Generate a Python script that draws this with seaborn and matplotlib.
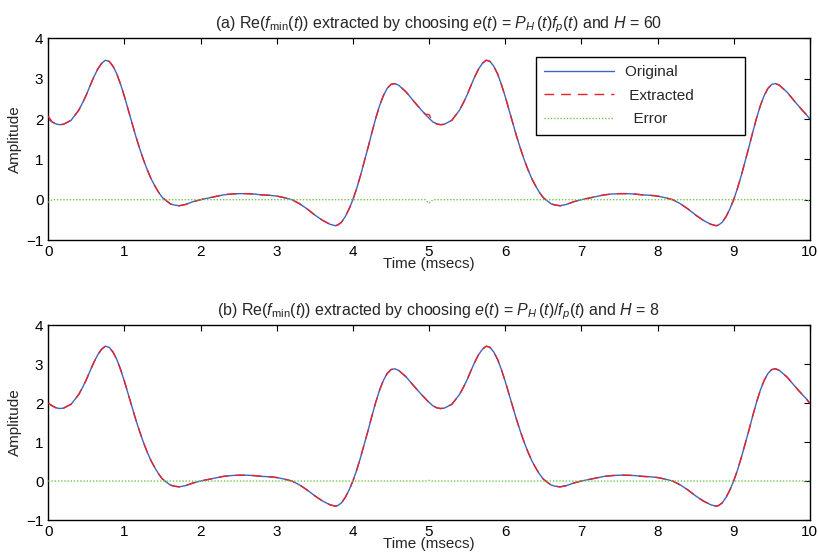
import matplotlib
matplotlib.use("Agg")
import matplotlib.pyplot as plt
from matplotlib.lines import Line2D
import seaborn as sns
import pandas as pd

# ---------------- data ----------------
time_ms = [0.0, 0.05, 0.1, 0.15, 0.2, 0.3, 0.4, 0.45, 0.5, 0.55, 0.6, 0.65, 0.7, 0.75, 0.8, 0.85,
           0.9, 0.95, 1.0, 1.05, 1.1, 1.15, 1.2, 1.25, 1.3, 1.35, 1.4, 1.45, 1.5, 1.6, 1.65, 1.72,
           1.8, 1.9, 2.0, 2.1, 2.2, 2.3, 2.4, 2.5, 2.6, 2.7, 2.8, 2.9, 3.0, 3.1, 3.2, 3.3, 3.4,
           3.5, 3.6, 3.7, 3.77, 3.8, 3.85, 3.9, 3.95, 4.0, 4.05, 4.1, 4.15, 4.2, 4.25, 4.3, 4.35,
           4.4, 4.45, 4.5, 4.55, 4.6, 4.7, 4.8, 4.9, 4.95,
           5.0, 5.05, 5.1, 5.15, 5.2, 5.3, 5.4, 5.45, 5.5, 5.55, 5.6, 5.65, 5.7, 5.75, 5.8, 5.85,
           5.9, 5.95, 6.0, 6.05, 6.1, 6.15, 6.2, 6.25, 6.3, 6.35, 6.4, 6.45, 6.5, 6.6, 6.65, 6.72,
           6.8, 6.9, 7.0, 7.1, 7.2, 7.3, 7.4, 7.5, 7.6, 7.7, 7.8, 7.9, 8.0, 8.1, 8.2, 8.3, 8.4,
           8.5, 8.6, 8.7, 8.77, 8.8, 8.85, 8.9, 8.95, 9.0, 9.05, 9.1, 9.15, 9.2, 9.25, 9.3, 9.35,
           9.4, 9.45, 9.5, 9.55, 9.6, 9.7, 9.8, 9.9, 9.95, 10.0]

original = [2.00, 1.93, 1.88, 1.86, 1.87, 1.97, 2.22, 2.40, 2.60, 2.83, 3.05, 3.24, 3.38, 3.46, 3.43, 3.31,
            3.12, 2.86, 2.56, 2.23, 1.90, 1.57, 1.27, 0.99, 0.74, 0.52, 0.34, 0.18, 0.05, -0.10, -0.13, -0.15,
            -0.12, -0.05, 0.00, 0.04, 0.08, 0.12, 0.14, 0.15, 0.15, 0.14, 0.12, 0.11, 0.09, 0.05, 0.00, -0.10, -0.23,
            -0.38, -0.51, -0.61, -0.645, -0.63, -0.56, -0.42, -0.23, 0.00, 0.28, 0.60, 0.95, 1.30, 1.67, 2.02, 2.33,
            2.58, 2.76, 2.86, 2.88, 2.84, 2.67, 2.44, 2.22, 2.12,
            2.02, 1.93, 1.88, 1.86, 1.87, 1.97, 2.22, 2.40, 2.60, 2.83, 3.05, 3.24, 3.38, 3.46, 3.43, 3.31,
            3.12, 2.86, 2.56, 2.23, 1.90, 1.57, 1.27, 0.99, 0.74, 0.52, 0.34, 0.18, 0.05, -0.10, -0.13, -0.15,
            -0.12, -0.05, 0.00, 0.04, 0.08, 0.12, 0.14, 0.15, 0.15, 0.14, 0.12, 0.11, 0.09, 0.05, 0.00, -0.10, -0.23,
            -0.38, -0.51, -0.61, -0.645, -0.63, -0.56, -0.42, -0.23, 0.00, 0.28, 0.60, 0.95, 1.30, 1.67, 2.02, 2.33,
            2.58, 2.76, 2.86, 2.88, 2.84, 2.67, 2.44, 2.22, 2.12, 2.00]

# error (original - extracted), panel (a): zero except small glitches
error_a = [0.0] * len(time_ms)
error_a[0] = -0.07
error_a[time_ms.index(5.0)] = -0.09
error_a[time_ms.index(10.0)] = -0.04
# panel (b): essentially zero
error_b = [0.0] * len(time_ms)
error_b[time_ms.index(5.0)] = 0.015
error_b[time_ms.index(10.0)] = 0.015

extracted_a = [o - e for o, e in zip(original, error_a)]
extracted_b = [o - e for o, e in zip(original, error_b)]

titles = [r"(a) Re($f_{\rm min}(t)$) extracted by choosing $e(t)$ = $P_H\,(t)f_p(t)$ and $H$ = 60",
          r"(b) Re($f_{\rm min}(t)$) extracted by choosing $e(t)$ = $P_H\,(t)/f_p(t)$ and $H$ = 8"]
series_names = ["Original", "Extracted", "Error"]
x_ticks = list(range(0, 11))
y_ticks = [-1, 0, 1, 2, 3, 4]

# ---------------- styling ----------------
sns.set_style("white")
plt.rcParams["font.family"] = ["Liberation Sans", "DejaVu Sans"]
plt.rcParams["mathtext.fontset"] = "custom"
plt.rcParams["mathtext.rm"] = "Liberation Sans"
plt.rcParams["mathtext.it"] = "Liberation Sans:italic"
plt.rcParams["mathtext.bf"] = "Liberation Sans:bold"

c_orig = "#3a66c4"
c_extr = "#e8202a"
c_err = "#6cc84a"

fig = plt.figure(figsize=(8.18, 5.60), dpi=100)
ax_a = fig.add_axes([0.059, 0.5714, 0.931, 0.360])
ax_b = fig.add_axes([0.059, 0.0714, 0.931, 0.348])

panels = [(ax_a, extracted_a, error_a, titles[0]), (ax_b, extracted_b, error_b, titles[1])]
for i, (ax, extr, err, title) in enumerate(panels):
    df = pd.DataFrame({"t": time_ms, "orig": original, "extr": extr, "err": err})
    sns.lineplot(data=df, x="t", y="orig", ax=ax, color=c_orig, lw=1.0, sort=False,
                 estimator=None, zorder=2)
    sns.lineplot(data=df, x="t", y="extr", ax=ax, color=c_extr, lw=1.0, sort=False,
                 estimator=None, linestyle=(0, (7, 5)), zorder=3)
    sns.lineplot(data=df, x="t", y="err", ax=ax, color=c_err, lw=1.0, sort=False,
                 estimator=None, linestyle=(0, (1, 1.3)), zorder=4)
    ax.set_xlim(0, 10)
    ax.set_ylim(-1, 4)
    ax.set_xticks(x_ticks)
    ax.set_yticks(y_ticks)
    ax.tick_params(direction="in", length=4.5, width=0.8, top=True, right=True,
                   labelsize=11, pad=3.5, colors="black")
    for s in ax.spines.values():
        s.set_visible(True)
        s.set_color("black")
        s.set_linewidth(1.0)
    ax.set_xlabel("Time (msecs)", fontsize=11, labelpad=-1)
    ax.set_ylabel("Amplitude", fontsize=11, labelpad=3)
    ax.set_title(title, fontsize=11.5, pad=7, x=0.512)
    if ax.get_legend() is not None:
        ax.get_legend().remove()

handles = [Line2D([], [], color=c_orig, lw=1.0),
           Line2D([], [], color=c_extr, lw=1.0, linestyle=(0, (7, 5))),
           Line2D([], [], color=c_err, lw=1.0, linestyle=(0, (1, 1.3)))]
leg = ax_a.legend(handles, ["Original" + " " * 11, " Extracted" + " " * 10, "  Error"],
                  loc="upper left",
                  bbox_to_anchor=(0.64, 0.908), fontsize=11, frameon=True, fancybox=False,
                  handlelength=4.6, handletextpad=0.7, labelspacing=0.62, borderpad=0.55,
                  borderaxespad=0)
leg.get_frame().set_edgecolor("black")
leg.get_frame().set_linewidth(1.0)
leg.get_frame().set_facecolor("white")
leg.get_frame().set_alpha(1.0)

fig.savefig("out.png", dpi=100)
